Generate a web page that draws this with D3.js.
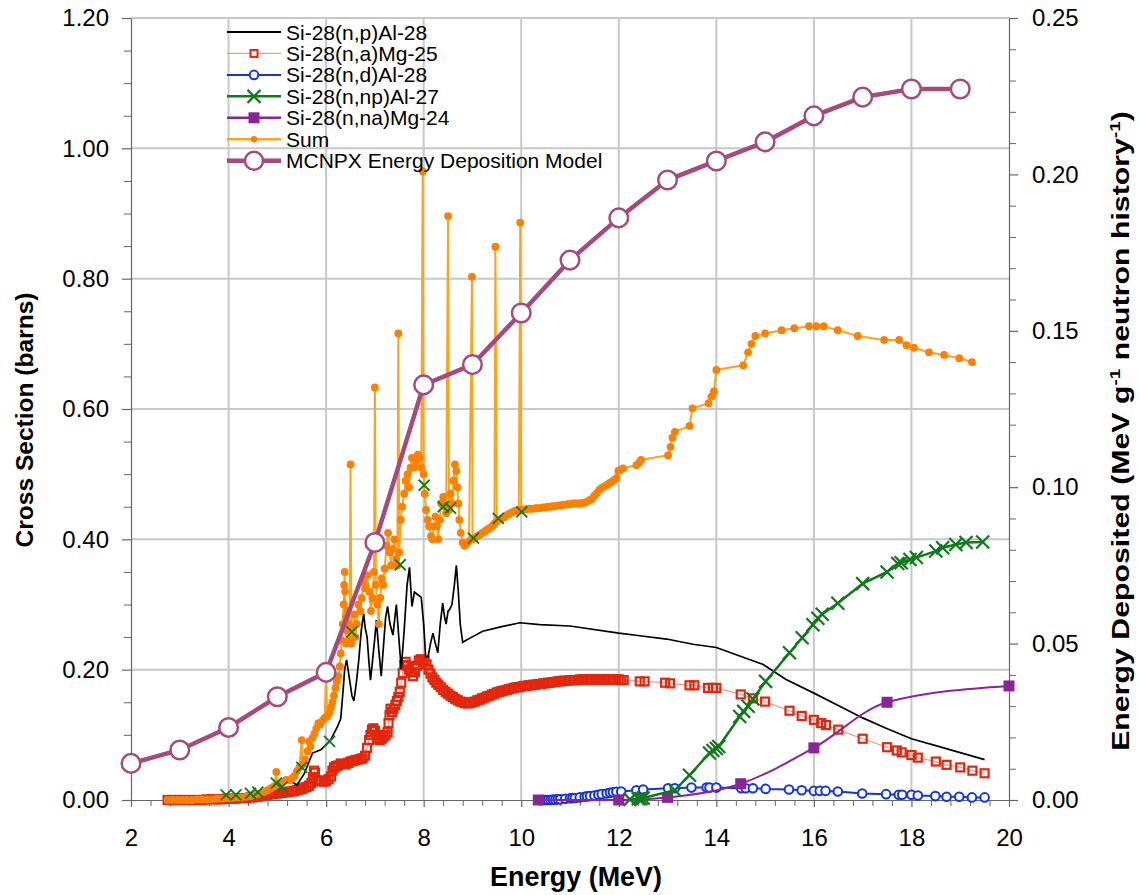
<!DOCTYPE html>
<html><head><meta charset="utf-8">
<script src="https://cdn.jsdelivr.net/npm/d3@7"></script>
<style>body{margin:0;background:#fff}svg text{font-family:"Liberation Sans",Arial,Helvetica,sans-serif}</style>
</head><body><svg id="c" width="1140" height="895"></svg>
<script>
// ---------- DATA ----------
// Si-28(n,p)Al-28 [E (MeV), cross section (b)]
const npAl28 = [[4.0,0],[4.4,0.004],[4.8,0.012],[5.0,0.02],[5.2,0.031],[5.3,0.028],[5.4,0.023],[5.55,0.04],[5.72,0.072],[5.89,0.077],[6.0,0.085],[6.09,0.092],[6.23,0.112],[6.3,0.125],[6.35,0.17],[6.38,0.2],[6.42,0.215],[6.47,0.19],[6.53,0.16],[6.57,0.152],[6.62,0.18],[6.67,0.215],[6.72,0.26],[6.77,0.286],[6.8,0.265],[6.84,0.25],[6.88,0.21],[6.91,0.184],[6.96,0.22],[7.0,0.25],[7.03,0.276],[7.08,0.23],[7.13,0.19],[7.18,0.24],[7.22,0.28],[7.26,0.297],[7.31,0.27],[7.37,0.253],[7.41,0.28],[7.44,0.3],[7.49,0.25],[7.54,0.201],[7.6,0.26],[7.66,0.33],[7.71,0.357],[7.74,0.32],[7.76,0.297],[7.81,0.319],[7.88,0.315],[7.95,0.311],[8.0,0.27],[8.04,0.22],[8.09,0.22],[8.14,0.24],[8.19,0.256],[8.24,0.24],[8.29,0.226],[8.34,0.27],[8.39,0.302],[8.43,0.28],[8.46,0.27],[8.5,0.29],[8.53,0.292],[8.58,0.3],[8.63,0.33],[8.67,0.36],[8.71,0.32],[8.75,0.27],[8.8,0.242],[8.87,0.245],[8.94,0.248],[9.21,0.259],[9.6,0.266],[9.97,0.272],[10.38,0.269],[11.0,0.267],[12.0,0.256],[12.43,0.252],[12.98,0.247],[13.52,0.239],[14.0,0.234],[14.48,0.221],[14.96,0.208],[15.43,0.185],[16.0,0.164],[16.53,0.144],[17.0,0.126],[17.48,0.110],[18.0,0.094],[18.57,0.082],[19.5,0.062]];

// Si-28(n,a)Mg-25
const naMg25 = [[2.75,0],[2.85,0],[2.95,0],[3.05,0],[3.15,0],[3.25,0],[3.35,0],[3.45,0],[3.55,0.001],[3.65,0.001],[3.75,0.001],[3.85,0.001],[3.95,0.002],[4.05,0.002],[4.15,0.002],[4.25,0.003],[4.35,0.003],[4.45,0.004],
[4.5,0.004],[4.55,0.005],[4.6,0.005],[4.65,0.006],[4.7,0.007],[4.75,0.008],[4.8,0.008],[4.85,0.009],[4.9,0.009],[4.95,0.010],[5.0,0.010],[5.05,0.011],[5.1,0.011],[5.15,0.012],[5.2,0.012],[5.25,0.013],[5.3,0.013],[5.35,0.014],[5.4,0.015],[5.45,0.016],[5.5,0.017],[5.55,0.019],[5.6,0.020],[5.65,0.022],[5.7,0.026],[5.73,0.035],[5.75,0.045],[5.77,0.042],[5.8,0.030],[5.85,0.029],[5.9,0.030],[5.95,0.028],[6.0,0.029],[6.05,0.032],[6.1,0.036],[6.13,0.045],[6.16,0.050],[6.2,0.052],[6.25,0.053],[6.3,0.056],[6.35,0.055],[6.4,0.055],[6.45,0.057],[6.5,0.059],[6.55,0.060],[6.6,0.061],[6.65,0.062],[6.7,0.063],[6.75,0.064],[6.8,0.068],[6.84,0.080],[6.88,0.092],[6.91,0.100],[6.94,0.108],[6.97,0.110],[7.0,0.106],[7.03,0.100],[7.06,0.094],[7.1,0.092],[7.14,0.094],[7.18,0.097],[7.22,0.100],[7.26,0.104],[7.28,0.118],[7.3,0.130],[7.32,0.140],[7.35,0.135],[7.38,0.140],[7.42,0.146],[7.45,0.152],[7.48,0.158],[7.51,0.166],[7.54,0.180],[7.57,0.195],[7.6,0.207],[7.63,0.212],[7.66,0.206],[7.7,0.200],[7.74,0.196],[7.78,0.190],[7.82,0.196],[7.86,0.206],[7.9,0.214],[7.94,0.216],[7.98,0.212],[8.02,0.214],[8.06,0.208],[8.1,0.200],[8.14,0.194],[8.18,0.188],[8.22,0.184],[8.26,0.180],[8.3,0.177],[8.35,0.173],[8.4,0.169],[8.45,0.166],[8.5,0.163],[8.55,0.160],[8.6,0.158],[8.65,0.155],[8.7,0.153],[8.75,0.151],[8.8,0.150],[8.85,0.149],[8.9,0.148],[8.95,0.149],[9.0,0.150],[9.05,0.151],[9.1,0.153],[9.15,0.154],[9.2,0.156],[9.25,0.157],[9.3,0.159],[9.35,0.160],[9.4,0.162],[9.45,0.163],[9.5,0.165],[9.55,0.166],[9.6,0.167],[9.65,0.168],[9.7,0.169],[9.75,0.170],[9.8,0.171],[9.85,0.172],[9.9,0.173],[9.95,0.173],[10.0,0.174],[10.05,0.175],[10.1,0.175],[10.15,0.176],[10.2,0.176],[10.25,0.177],[10.3,0.177],[10.35,0.178],[10.4,0.178],[10.45,0.179],[10.5,0.179],[10.55,0.180],[10.6,0.180],[10.65,0.181],[10.7,0.181],[10.75,0.182],[10.8,0.182],[10.85,0.183],[10.9,0.183],[10.95,0.183],[11.0,0.184],[11.05,0.184],[11.1,0.184],[11.15,0.184],[11.2,0.185],[11.25,0.185],[11.3,0.185],[11.35,0.185],[11.4,0.185],[11.45,0.185],[11.5,0.185],[11.55,0.185],[11.6,0.185],[11.65,0.185],[11.7,0.185],[11.75,0.185],[11.8,0.185],[11.85,0.185],[11.9,0.185],[11.95,0.185],[12.0,0.185],[12.05,0.184],[12.1,0.184],
[12.43,0.182],[12.53,0.182],[12.95,0.180],[13.05,0.179],[13.45,0.176],[13.55,0.176],[13.83,0.172],[13.93,0.172],[14.0,0.172],[14.5,0.162],[14.75,0.156],[15.0,0.151],[15.5,0.137],[15.75,0.129],[16.0,0.123],[16.15,0.118],[16.25,0.115],[16.5,0.108],[17.0,0.094],[17.5,0.081],[17.7,0.076],[17.8,0.073],[18.0,0.069],[18.13,0.065],[18.5,0.059],[18.72,0.054],[19.0,0.050],[19.25,0.045],[19.5,0.041]];

// Si-28(n,d)Al-28
const ndAl28 = [[10.38,0],[10.45,0],[10.5,0],[10.55,0],[10.6,0],[10.65,0.0005],[10.7,0.0005],[10.75,0.001],[10.8,0.001],[10.9,0.002],[11.0,0.0026],[11.05,0.003],[11.1,0.003],[11.2,0.004],[11.3,0.005],[11.35,0.0055],[11.41,0.006],[11.5,0.007],[11.58,0.008],[11.65,0.009],[11.75,0.010],[11.82,0.011],[11.88,0.012],[11.95,0.0125],[12.05,0.013],[12.36,0.015],[12.5,0.016],[13.01,0.018],[13.15,0.018],[13.49,0.019],[13.8,0.019],[13.86,0.019],[14.0,0.019],[14.51,0.018],[14.6,0.018],[14.75,0.018],[15.01,0.017],[15.49,0.016],[15.75,0.015],[16.0,0.014],[16.12,0.014],[16.24,0.014],[16.49,0.013],[16.99,0.010],[17.48,0.009],[17.74,0.008],[17.81,0.008],[18.0,0.008],[18.13,0.007],[18.49,0.006],[18.72,0.005],[18.98,0.005],[19.24,0.004],[19.5,0.004]];

// Si-28(n,np)Al-27 : low-energy markers (on the Sum curve) and main part
const npAl27Low = [[3.95,0.008],[4.15,0.008],[4.45,0.010],[4.6,0.012],[4.98,0.026],[5.1,0.020],[5.5,0.050],[6.07,0.090],[6.53,0.258],[7.52,0.361],[8.01,0.483],[8.4,0.450],[8.55,0.448],[9.02,0.402],[9.53,0.432],[10.01,0.442]];
const npAl27 = [[12.23,0.001],[12.4,0.002],[12.45,0.002],[12.5,0.003],[13.15,0.015],[13.45,0.038],[13.86,0.072],[13.93,0.076],[14.0,0.079],[14.05,0.082],[14.48,0.128],[14.56,0.136],[14.65,0.144],[14.75,0.155],[15.01,0.182],[15.5,0.226],[15.76,0.249],[15.98,0.269],[16.08,0.279],[16.17,0.285],[16.49,0.302],[17.0,0.332],[17.5,0.350],[17.72,0.363],[17.79,0.364],[17.97,0.369],[18.1,0.372],[18.5,0.382],[18.64,0.387],[18.91,0.392],[19.12,0.395],[19.46,0.396]];

// Si-28(n,na)Mg-24
const naMg24 = [[10.35,0],[12.0,0],[13.0,0.004],[14.5,0.025],[16.0,0.080],[17.5,0.150],[20.0,0.175]];

// Sum
const sumXS = [[2.75,0],[2.85,0],[2.95,0],[3.05,0],[3.15,0],[3.25,0],[3.35,0.001],[3.45,0.001],[3.55,0.001],[3.65,0.001],[3.75,0.002],[3.85,0.002],[3.95,0.003],[4.05,0.003],[4.15,0.004],[4.25,0.004],[4.35,0.005],[4.45,0.006],[4.55,0.008],[4.65,0.010],[4.72,0.012],[4.8,0.015],[4.87,0.018],[4.93,0.021],[4.98,0.043],[5.0,0.024],[5.06,0.026],[5.12,0.028],[5.18,0.031],[5.24,0.030],[5.3,0.033],[5.35,0.037],[5.4,0.044],[5.45,0.050],[5.5,0.092],[5.52,0.055],[5.57,0.062],[5.62,0.075],[5.65,0.090],[5.68,0.082],[5.72,0.095],[5.76,0.102],[5.8,0.110],[5.84,0.118],[5.88,0.116],[5.93,0.122],[5.97,0.126],[6.0,0.200],[6.02,0.128],[6.06,0.133],[6.1,0.142],[6.13,0.150],[6.16,0.160],[6.19,0.172],[6.22,0.182],[6.25,0.190],[6.28,0.205],[6.3,0.225],[6.32,0.245],[6.34,0.270],[6.36,0.300],[6.37,0.330],[6.38,0.350],[6.39,0.320],[6.4,0.280],[6.41,0.240],[6.42,0.260],[6.44,0.290],[6.46,0.270],[6.48,0.245],[6.5,0.515],[6.52,0.240],[6.55,0.265],[6.58,0.285],[6.6,0.250],[6.63,0.270],[6.66,0.300],[6.7,0.290],[6.73,0.310],[6.76,0.335],[6.8,0.325],[6.84,0.345],[6.88,0.320],[6.92,0.290],[6.95,0.310],[6.98,0.350],[7.0,0.633],[7.02,0.330],[7.05,0.300],[7.08,0.270],[7.11,0.310],[7.14,0.340],[7.17,0.330],[7.2,0.355],[7.24,0.390],[7.27,0.410],[7.3,0.380],[7.33,0.360],[7.36,0.385],[7.4,0.400],[7.44,0.370],[7.46,0.360],[7.48,0.716],[7.5,0.380],[7.53,0.430],[7.56,0.450],[7.6,0.470],[7.63,0.490],[7.67,0.500],[7.7,0.480],[7.73,0.510],[7.76,0.525],[7.8,0.510],[7.84,0.520],[7.88,0.530],[7.92,0.525],[7.95,0.510],[7.98,0.965],[8.0,0.500],[8.02,0.470],[8.05,0.445],[8.08,0.430],[8.11,0.420],[8.15,0.405],[8.18,0.400],[8.21,0.420],[8.24,0.435],[8.27,0.420],[8.3,0.400],[8.33,0.430],[8.36,0.455],[8.4,0.465],[8.43,0.450],[8.46,0.440],[8.5,0.896],[8.52,0.445],[8.55,0.470],[8.58,0.455],[8.61,0.490],[8.64,0.515],[8.67,0.505],[8.69,0.480],[8.71,0.455],[8.73,0.430],[8.76,0.410],[8.8,0.395],[8.84,0.390],[8.88,0.393],[8.93,0.397],[8.99,0.803],[9.0,0.400],[9.05,0.402],[9.1,0.405],[9.15,0.407],[9.2,0.410],[9.25,0.412],[9.3,0.415],[9.35,0.417],[9.4,0.420],[9.45,0.424],[9.47,0.849],[9.5,0.428],[9.55,0.430],[9.6,0.432],[9.65,0.434],[9.7,0.437],[9.75,0.439],[9.8,0.441],[9.85,0.443],[9.9,0.444],[9.95,0.445],[9.98,0.886],[10.0,0.445],[10.05,0.446],[10.1,0.446],[10.15,0.447],[10.2,0.447],[10.25,0.447],[10.3,0.448],[10.35,0.448],[10.4,0.448],[10.45,0.449],[10.5,0.449],[10.55,0.450],[10.6,0.450],[10.65,0.451],[10.7,0.451],[10.75,0.452],[10.8,0.452],[10.85,0.453],[10.9,0.453],[10.95,0.454],[11.0,0.454],[11.05,0.455],[11.1,0.455],[11.15,0.455],[11.2,0.455],[11.25,0.456],[11.3,0.456],[11.35,0.458],[11.4,0.460],[11.45,0.462],[11.5,0.467],[11.55,0.471],[11.6,0.476],[11.65,0.479],[11.7,0.481],[11.75,0.483],[11.8,0.486],[11.85,0.488],[11.9,0.491],[11.95,0.494],[11.99,0.505],[12.04,0.507],[12.09,0.509],[12.36,0.514],[12.42,0.518],[12.46,0.522],[13.01,0.529],[13.06,0.542],[13.1,0.556],[13.15,0.565],[13.45,0.574],[13.51,0.601],[13.84,0.609],[13.9,0.619],[13.95,0.627],[14.0,0.660],[14.55,0.667],[14.65,0.687],[14.72,0.700],[14.8,0.712],[15.0,0.716],[15.34,0.721],[15.6,0.724],[15.9,0.727],[16.05,0.727],[16.2,0.727],[16.49,0.721],[16.9,0.712],[17.44,0.706],[17.75,0.706],[17.9,0.698],[18.05,0.694],[18.36,0.687],[18.67,0.683],[18.98,0.678],[19.24,0.672]];

// MCNPX energy deposition model (right axis, MeV g^-1 per neutron history)
const mcnpxE = [2,3,4,5,6,7,8,9,10,11,12,13,14,15,16,17,18,19];
const mcnpxDep = [0.0117,0.0160,0.0232,0.0330,0.0408,0.0823,0.1327,0.1392,0.1557,0.1726,0.1861,0.1982,0.2043,0.2104,0.2187,0.2247,0.2273,0.2273];

// Axis ticks
const xTicks = [2,4,6,8,10,12,14,16,18,20];
const yTicksL = [0,0.2,0.4,0.6,0.8,1.0,1.2];
const yTicksR = [0,0.05,0.10,0.15,0.20,0.25];

// Legend labels
const legendLabels = ["Si-28(n,p)Al-28","Si-28(n,a)Mg-25","Si-28(n,d)Al-28","Si-28(n,np)Al-27","Si-28(n,na)Mg-24","Sum","MCNPX Energy Deposition Model"];

// ---------- CHART ----------
const svg = d3.select("#c");
const L=131, R=1009, T=18, B=800;
const x = d3.scaleLinear().domain([2,20]).range([L,R]);
const yL = d3.scaleLinear().domain([0,1.2]).range([B,T]);
const yR = d3.scaleLinear().domain([0,0.25]).range([B,T]);

const C = {np:"#000000", naM:"#e3260c", naL:"#f29a90", nd:"#1234e6", nnp:"#0f7a1c", nna:"#8c2398", sumL:"#ffa31a", sumM:"#ff8000", mc:"#a64a7e"};

// grid
const grid = svg.append("g");
grid.selectAll("line.v").data(xTicks.slice(1,-1)).join("line").attr("class","v")
  .attr("x1",d=>x(d)).attr("x2",d=>x(d)).attr("y1",T).attr("y2",B)
  .attr("stroke","#c8c8c8").attr("stroke-width",2);
grid.selectAll("line.h").data(yTicksL.slice(1)).join("line").attr("class","h")
  .attr("x1",L).attr("x2",R).attr("y1",d=>yL(d)).attr("y2",d=>yL(d))
  .attr("stroke","#c8c8c8").attr("stroke-width",2);

// axes
function styleAxis(g){
  g.attr("font-family",null).attr("font-size",null);
  g.select(".domain").attr("stroke","#666").attr("stroke-width",1.2);
  g.selectAll(".tick line").attr("stroke","#666").attr("stroke-width",1.2);
  g.selectAll(".tick text").attr("fill","#000").style("font-size","24px");
}
const minorX = d3.range(2,20.001,0.4).filter(v=>Math.abs(v/2-Math.round(v/2))>1e-6);
const minorL = d3.range(0,1.2001,0.05).filter(v=>Math.abs(v/0.2-Math.round(v/0.2))>1e-6);
const minorR = d3.range(0,0.2501,0.01).filter(v=>Math.abs(v/0.05-Math.round(v/0.05))>1e-6);

svg.append("g").attr("transform",`translate(0,${B})`)
  .call(d3.axisBottom(x).tickValues(minorX).tickSize(6).tickFormat("").tickSizeOuter(0))
  .call(g=>{g.select(".domain").remove();g.selectAll("line").attr("stroke","#666");});
svg.append("g").attr("transform",`translate(${L},0)`)
  .call(d3.axisLeft(yL).tickValues(minorL).tickSize(7).tickFormat("").tickSizeOuter(0))
  .call(g=>{g.select(".domain").remove();g.selectAll("line").attr("stroke","#666");});
svg.append("g").attr("transform",`translate(${R},0)`)
  .call(d3.axisRight(yR).tickValues(minorR).tickSize(7).tickFormat("").tickSizeOuter(0))
  .call(g=>{g.select(".domain").remove();g.selectAll("line").attr("stroke","#666");});

svg.append("g").attr("transform",`translate(0,${B})`)
  .call(d3.axisBottom(x).tickValues(xTicks).tickFormat(d3.format("d")).tickSize(7).tickPadding(22).tickSizeOuter(0))
  .call(styleAxis);
svg.append("g").attr("transform",`translate(${L},0)`)
  .call(d3.axisLeft(yL).tickValues(yTicksL).tickFormat(d3.format(".2f")).tickSize(9).tickPadding(13).tickSizeOuter(0))
  .call(styleAxis);
svg.append("g").attr("transform",`translate(${R},0)`)
  .call(d3.axisRight(yR).tickValues(yTicksR).tickFormat(d3.format(".2f")).tickSize(9).tickPadding(14).tickSizeOuter(0))
  .call(styleAxis);

// series helpers
const lineL = (data,curve)=>d3.line().x(d=>x(d[0])).y(d=>yL(d[1])).curve(curve||d3.curveLinear)(data);
const plot = svg.append("g");
const xPath = s=>`M${-s},${-s}L${s},${s}M${-s},${s}L${s},${-s}`;

// n,a Mg-25 (red open squares)
plot.append("path").attr("d",lineL(naMg25)).attr("fill","none").attr("stroke",C.naL).attr("stroke-width",1.2);
plot.append("g").selectAll("rect").data(naMg25).join("rect")
  .attr("x",d=>x(d[0])-4).attr("y",d=>yL(d[1])-4).attr("width",8).attr("height",8)
  .attr("fill","none").attr("stroke",C.naM).attr("stroke-width",2.2);

// n,p Al-28 black
plot.append("path").attr("d",lineL(npAl28)).attr("fill","none").attr("stroke",C.np).attr("stroke-width",1.7);

// n,d blue
plot.append("path").attr("d",lineL(ndAl28)).attr("fill","none").attr("stroke",C.nd).attr("stroke-width",2);
plot.append("g").selectAll("circle").data(ndAl28).join("circle")
  .attr("cx",d=>x(d[0])).attr("cy",d=>yL(d[1])).attr("r",4.3)
  .attr("fill","#fff").attr("stroke",C.nd).attr("stroke-width",2);

// n,na purple
plot.append("path").attr("d",lineL(naMg24,d3.curveMonotoneX)).attr("fill","none").attr("stroke",C.nna).attr("stroke-width",2);
plot.append("g").selectAll("rect").data(naMg24).join("rect")
  .attr("x",d=>x(d[0])-5.5).attr("y",d=>yL(d[1])-5.5).attr("width",11).attr("height",11)
  .attr("fill",C.nna);

// n,np green
plot.append("path").attr("d",lineL(npAl27)).attr("fill","none").attr("stroke",C.nnp).attr("stroke-width",2.5);
plot.append("g").selectAll("path").data(npAl27).join("path")
  .attr("transform",d=>`translate(${x(d[0])},${yL(d[1])})`).attr("d",xPath(6.5))
  .attr("fill","none").attr("stroke",C.nnp).attr("stroke-width",2.2);

// Sum orange
plot.append("path").attr("d",lineL(sumXS)).attr("fill","none").attr("stroke",C.sumL).attr("stroke-width",2);
plot.append("g").selectAll("circle").data(sumXS).join("circle")
  .attr("cx",d=>x(d[0])).attr("cy",d=>yL(d[1])).attr("r",3.9).attr("fill",C.sumM);

// green markers of low part on top of Sum
plot.append("g").selectAll("path").data(npAl27Low).join("path")
  .attr("transform",d=>`translate(${x(d[0])},${yL(d[1])})`).attr("d",xPath(5.5))
  .attr("fill","none").attr("stroke",C.nnp).attr("stroke-width",1.8);

// MCNPX (right axis)
const mc = mcnpxE.map((e,i)=>[e,mcnpxDep[i]]);
plot.append("path").attr("d",d3.line().x(d=>x(d[0])).y(d=>yR(d[1]))(mc))
  .attr("fill","none").attr("stroke",C.mc).attr("stroke-width",4.5);
plot.append("g").selectAll("circle").data(mc).join("circle")
  .attr("cx",d=>x(d[0])).attr("cy",d=>yR(d[1])).attr("r",9.3)
  .attr("fill","#fff").attr("stroke",C.mc).attr("stroke-width",2.5);

// legend
const lg = svg.append("g");
const lx0=227, lx1=281, lmx=254, ly0=32, ldy=21.45;
legendLabels.forEach((t,i)=>{
  const y = ly0+i*ldy;
  const row = lg.append("g");
  const st = [
    {c:C.np,w:2},{c:C.naL,w:1.2},{c:C.nd,w:2},{c:C.nnp,w:2.5},{c:C.nna,w:2.5},{c:C.sumL,w:2.5},{c:C.mc,w:4.5}][i];
  row.append("line").attr("x1",lx0).attr("x2",lx1).attr("y1",y).attr("y2",y).attr("stroke",st.c).attr("stroke-width",st.w);
  if(i===1) row.append("rect").attr("x",lmx-3.5).attr("y",y-3.5).attr("width",7).attr("height",7).attr("fill","#fff").attr("stroke",C.naM).attr("stroke-width",2);
  if(i===2) row.append("circle").attr("cx",lmx).attr("cy",y).attr("r",4.3).attr("fill","#fff").attr("stroke",C.nd).attr("stroke-width",2);
  if(i===3) row.append("path").attr("transform",`translate(${lmx},${y})`).attr("d",xPath(6.5)).attr("stroke",C.nnp).attr("stroke-width",2.2);
  if(i===4) row.append("rect").attr("x",lmx-5.5).attr("y",y-5.5).attr("width",11).attr("height",11).attr("fill",C.nna);
  if(i===5) row.append("circle").attr("cx",lmx).attr("cy",y).attr("r",3.2).attr("fill",C.sumM);
  if(i===6) row.append("circle").attr("cx",lmx).attr("cy",y).attr("r",9).attr("fill","#fff").attr("stroke",C.mc).attr("stroke-width",2.5);
  row.append("text").attr("x",286).attr("y",y+7.5).style("font-size","21px").attr("fill","#000").text(t);
});

// titles (fitted to measured lengths)
function fitTitle(sel, len, cx, cy, rot){
  const w = sel.node().getComputedTextLength();
  sel.attr("text-anchor","middle").attr("x",0).attr("y",0)
     .attr("transform",`translate(${cx},${cy}) rotate(${rot}) scale(${len/w},1)`);
}
const xt = svg.append("text").style("font-size","28px").style("font-weight","bold").text("Energy (MeV)");
fitTitle(xt,172,576,886,0);
const lt = svg.append("text").style("font-size","24px").style("font-weight","bold").text("Cross Section (barns)");
fitTitle(lt,255,33,420,-90);
const rt = svg.append("text").style("font-size","24px").style("font-weight","bold");
rt.append("tspan").text("Energy Deposited (MeV g");
rt.append("tspan").attr("dy",-9).style("font-size","15px").text("-1");
rt.append("tspan").attr("dy",9).text(" neutron history");
rt.append("tspan").attr("dy",-9).style("font-size","15px").text("-1");
rt.append("tspan").attr("dy",9).text(")");
fitTitle(rt,640,1129,431,-90);
</script></body></html>
